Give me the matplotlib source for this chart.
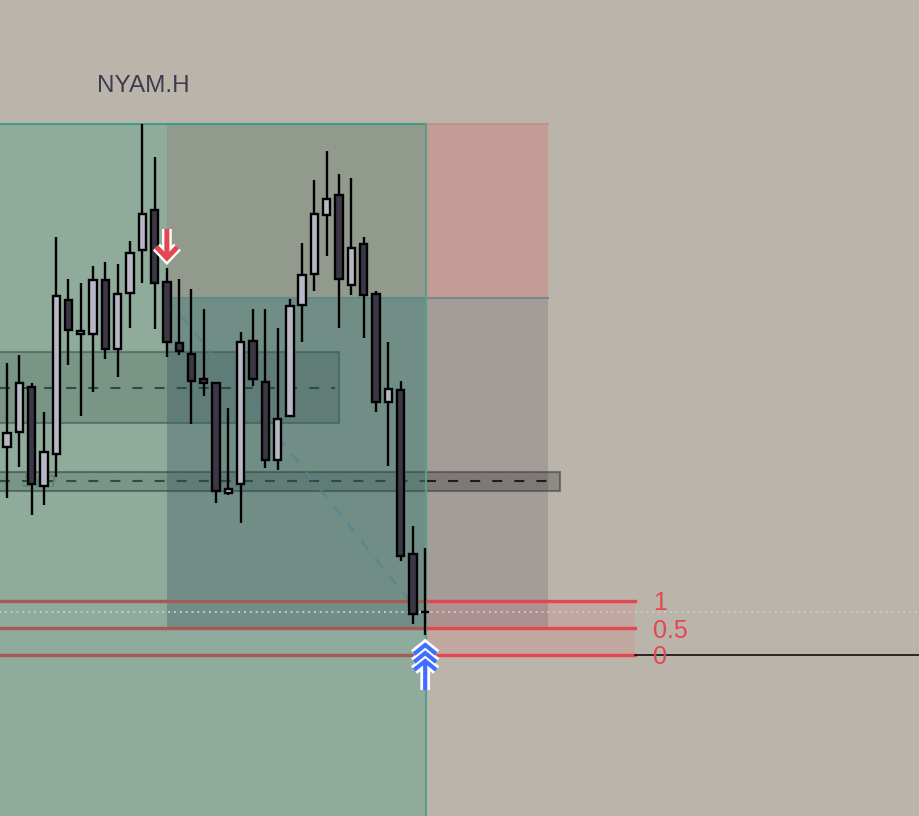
import numpy as np
import matplotlib.pyplot as plt
from matplotlib.patches import Rectangle
import matplotlib.patheffects as pe

# candles (price units = pixels above the bottom edge)
opens = [369, 384, 429, 330, 362, 516, 482, 482, 536, 467, 523, 566, 606, 534, 473, 462, 437, 433,
         323, 332, 475, 434, 356, 400, 511, 542, 601, 621, 531, 572, 522, 414, 426, 262, 204]
highs = [453, 461, 433, 404, 579, 537, 533, 550, 554, 552, 575, 692, 659, 548, 537, 527, 507, 434,
         408, 484, 507, 507, 488, 517, 573, 636, 665, 642, 638, 579, 525, 474, 435, 290, 268]
lows = [318, 349, 301, 311, 339, 451, 400, 424, 457, 439, 488, 533, 487, 459, 461, 392, 420, 313,
        321, 293, 430, 348, 346, 400, 474, 525, 560, 488, 521, 478, 404, 350, 255, 192, 181]
closes = [383, 433, 332, 364, 520, 486, 485, 536, 467, 522, 563, 602, 533, 474, 465, 435, 433, 325,
          327, 474, 437, 356, 397, 510, 541, 602, 617, 537, 568, 521, 414, 427, 260, 202, 204]

symbol = "NYAM.H"
sell_bar = 13
buy_bar = 34

# position tool levels
zone_top = 692
entry = 518
target = 187
long_end = 34.06
short_end = 43.98

# boxes: (x end, bottom, top, dashed level)
box1 = (27.0, 393, 464, 428)
box2 = (44.96, 325, 344, 335)

fib_levels = [215, 188, 161]
fib_labels = ["1", "0.5", "0"]
fib_end = 51.06

bg = "#bbb4aa"
red = "#e3474f"

fig = plt.figure(figsize=(9.2, 8.16), dpi=100, facecolor=bg)
ax = fig.add_axes([0, 0, 1, 1])
ax.set_facecolor(bg)
ax.set_xlim(-0.569, 74.23)
ax.set_ylim(0, 816)
ax.axis("off")

# zones
ax.add_patch(Rectangle((-2, -10), long_end + 2, zone_top + 10, fc="#8fab9b", ec="none", zorder=0))
ax.add_patch(Rectangle((sell_bar, entry), long_end - sell_bar, zone_top - entry, fc="#919a8c", ec="none", zorder=0))
ax.add_patch(Rectangle((sell_bar, target), long_end - sell_bar, entry - target, fc="#708e86", ec="none", zorder=0))
ax.add_patch(Rectangle((long_end, entry), short_end - long_end, zone_top - entry, fc="#c39c96", ec="none", zorder=0))
ax.add_patch(Rectangle((long_end, target), short_end - long_end, entry - target, fc="#a39c98", ec="none", zorder=0))

ax.plot([-2, long_end], [zone_top, zone_top], color="#3f9c88", lw=1.5, zorder=1)
ax.plot([long_end, short_end], [zone_top, zone_top], color="#c88a8a", lw=1.2, zorder=1)
ax.plot([long_end, long_end], [-10, zone_top], color="#5b9e8d", lw=1.5, zorder=3)
ax.plot([sell_bar, long_end], [entry, entry], color="#5f8a87", lw=1.5, zorder=1)
ax.plot([long_end, short_end], [entry, entry], color="#80848e", lw=1.5, zorder=1)

# boxes with dashed mid lines
dash = (0, (4.8, 5.8))
x1, b1, t1, m1 = box1
ax.add_patch(Rectangle((-2, b1), x1 + 2, t1 - b1, fc="#1f3d36", alpha=0.2, ec="none", zorder=2))
ax.add_patch(Rectangle((-2, b1), x1 + 2, t1 - b1, fc="none", ec="#3a5a52", alpha=0.6, lw=1.5, zorder=2))
ax.plot([-0.57, x1 - 0.3], [m1, m1], color="#2c4d45", lw=1.5, ls=dash, zorder=2)

x2, b2, t2, m2 = box2
ax.add_patch(Rectangle((-2, b2), long_end + 2, t2 - b2, fc="#1f3d36", alpha=0.2, ec="none", zorder=2))
ax.add_patch(Rectangle((long_end, b2), x2 - long_end, t2 - b2, fc="#2a2a2a", alpha=0.3, ec="none", zorder=2))
ax.add_patch(Rectangle((-2, b2), x2 + 2, t2 - b2, fc="none", ec="#3d4644", alpha=0.6, lw=1.5, zorder=2))
ax.plot([-0.57, long_end], [m2, m2], color="#2c4d45", lw=1.5, ls=dash, zorder=2)
ax.plot([long_end, x2 - 0.5], [m2, m2], color="#1c1c1c", lw=1.5, ls=dash, zorder=2)
ax.text(2.6, m2, "5m", fontsize=16, style="italic", color="#5f7f77", ha="center", va="center",
        family="DejaVu Sans", zorder=4)

# fib levels
ax.fill_between([long_end, fib_end], fib_levels[-1], fib_levels[0], color="#f23645", alpha=0.1, lw=0, zorder=2)
for lvl, lab in zip(fib_levels, fib_labels):
    ax.plot([-2, long_end], [lvl, lvl], color="#a65a58", lw=2.4, zorder=2)
    ax.plot([long_end, fib_end], [lvl, lvl], color=red, lw=2.4, zorder=2)
    ax.text(52.5, lvl, lab, color=red, fontsize=18, ha="left", va="center_baseline",
            family="Liberation Sans", zorder=7)
ax.plot([fib_end, 80], [fib_levels[-1], fib_levels[-1]], color="black", lw=1.1, zorder=2)

# current price and trend line
last = closes[-1]
ax.plot([-1, 80], [last, last], color="#c8c8d2", lw=1.4, ls=(0, (1, 2)), zorder=3)
ax.plot([sell_bar, buy_bar - 0.55], [entry, last], color="#4f8592", lw=1.6, ls=(0, (5, 5)),
        alpha=0.75, zorder=3)

# candles
n = len(opens)
x = np.arange(n)
ax.vlines(x, lows, highs, color="black", lw=1.7, zorder=5)
w = 0.6
for i in range(n):
    o, c = opens[i], closes[i]
    fc = "#b7b7c6" if c >= o else "#3c3746"
    ax.add_patch(Rectangle((i - w / 2, min(o, c)), w, abs(c - o), fc=fc, ec="black", lw=1.7, zorder=6))

# signal markers
outline = [pe.Stroke(linewidth=7, foreground="white"), pe.Normal()]
tip = highs[sell_bar] + 10
ax.plot([sell_bar, sell_bar, np.nan, sell_bar - 0.85, sell_bar, sell_bar + 0.85],
        [tip + 29, tip + 3, np.nan, tip + 11, tip, tip + 11],
        color=red, lw=3.6, solid_joinstyle="miter", solid_capstyle="butt", path_effects=outline, zorder=8)

tip = lows[buy_bar] - 10
bx, by = [], []
for k in range(3):
    t = tip - 8 * k
    bx += [buy_bar - 0.9, buy_bar, buy_bar + 0.9, np.nan]
    by += [t - 9, t, t - 9, np.nan]
bx += [buy_bar, buy_bar]
by += [tip - 18, tip - 45]
ax.plot(bx, by, color="#3f6dff", lw=3.0, solid_joinstyle="miter", solid_capstyle="butt",
        path_effects=outline, zorder=8)

fig.text(97 / 920, 1 - 92 / 816, symbol, fontsize=17.5, color="#3c3e4e", ha="left", va="baseline",
         family="Liberation Sans")

fig.savefig("out.png", dpi=100, facecolor=bg)
